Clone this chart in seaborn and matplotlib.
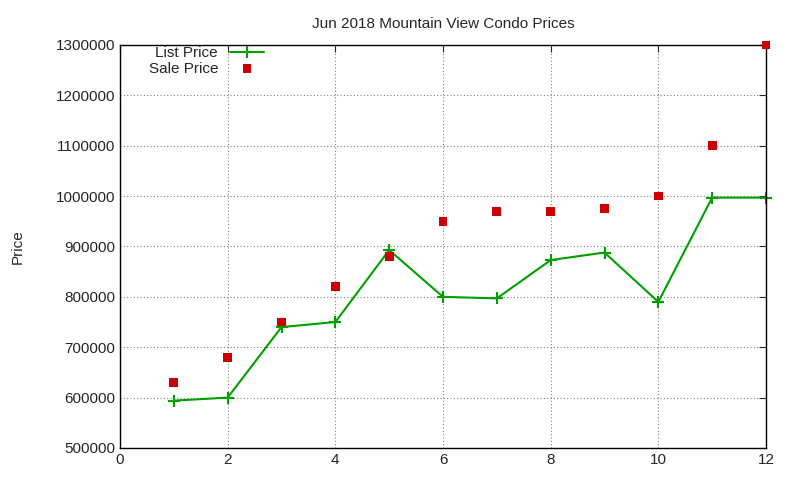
import matplotlib
matplotlib.use("Agg")
import matplotlib.pyplot as plt
import pandas as pd
import seaborn as sns

MONTHS = [1, 2, 3, 4, 5, 6, 7, 8, 9, 10, 11, 12]
LIST_PRICE = [594000, 600000, 740000, 750000, 893000, 800000, 797000, 873000, 888000, 790000, 997000, 997000]
SALE_PRICE = [630000, 680000, 750000, 820000, 880000, 950000, 970000, 970000, 975000, 1000000, 1100000, 1300000]
Y_TICKS = list(range(500000, 1300001, 100000))
X_TICKS = [0, 2, 4, 6, 8, 10, 12]


def main() -> None:
    sns.set_style("white")
    plt.rcParams["font.family"] = ["Liberation Sans", "DejaVu Sans"]
    df = pd.DataFrame({"month": MONTHS, "list": LIST_PRICE, "sale": SALE_PRICE})

    fig = plt.figure(figsize=(8, 4.8), dpi=100)
    ax = fig.add_axes([0.15, 0.0667, 0.8075, 0.8396])
    sns.lineplot(data=df, x="month", y="list", ax=ax, color="#00a000", marker="+",
                 markersize=8, markeredgewidth=1.5, markeredgecolor="#00a000",
                 linewidth=1.5, label="List Price", clip_on=False)
    sns.scatterplot(data=df, x="month", y="sale", ax=ax, color="#cc0000", marker="s",
                    s=40, edgecolor="none", label="Sale Price", zorder=3, clip_on=False)

    ax.set_xlim(0, 12)
    ax.set_ylim(500000, 1300000)
    ax.set_xticks(X_TICKS)
    ax.set_yticks(Y_TICKS)
    ax.set_yticklabels([str(v) for v in Y_TICKS])
    ax.tick_params(direction="in", labelsize=11, top=True, right=True, length=5)
    ax.grid(True, color="gray", linestyle=(0, (1, 2)), linewidth=0.8)
    for s in ax.spines.values():
        s.set_color("black")
        s.set_linewidth(1)
    ax.set_xlabel("")
    ax.set_ylabel("Price", fontsize=11, labelpad=22)
    ax.set_title("Jun 2018 Mountain View Condo Prices", fontsize=11, pad=12)
    ax.legend(loc="upper left", bbox_to_anchor=(0.03, 1.02), markerfirst=False, frameon=False,
              fontsize=11, handlelength=2.2, borderaxespad=0.2, labelspacing=0.1)

    fig.savefig("out.png", dpi=100)


if __name__ == "__main__":
    main()
